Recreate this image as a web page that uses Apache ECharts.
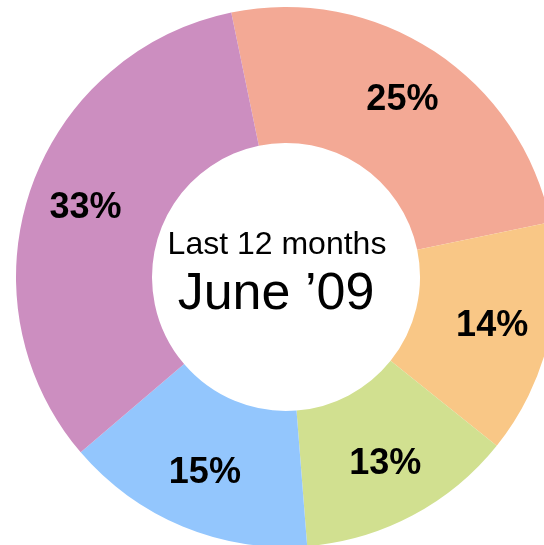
<!DOCTYPE html>
<html>
<head>
<meta charset="utf-8">
<script src="https://cdn.jsdelivr.net/npm/echarts@6/dist/echarts.min.js"></script>
<style>
    html, body { margin: 0; padding: 0; background: #ffffff; }
    #chart { width: 544px; height: 545px; }
</style>
</head>
<body>
<div id="chart"></div>
<script>
// slices, clockwise from the top
var categories = ["A", "B", "C", "D", "E"];
var values = [25, 14, 13, 15, 33];
var colors = ["#F3A995", "#F9C786", "#D1E090", "#93C6FD", "#CC8EC0"];

var chart = echarts.init(document.getElementById("chart"));

var font = "Liberation Sans, Arial, sans-serif";

var sliceData = categories.map(function (c, i) {
    return {name: c, value: values[i], itemStyle: {color: colors[i]}};
});

var option = {
    animation: false,
    backgroundColor: "#ffffff",
    graphic: [
        {
            type: "text",
            x: 277,
            y: 245,
            style: {
                text: "Last 12 months",
                fontSize: 32,
                fontFamily: font,
                fill: "#000000",
                align: "center",
                verticalAlign: "middle"
            }
        },
        {
            type: "text",
            x: 276,
            y: 295,
            style: {
                text: "June \u201909",
                fontSize: 52,
                fontFamily: font,
                fill: "#000000",
                align: "center",
                verticalAlign: "middle"
            }
        }
    ],
    series: [
        {
            type: "pie",
            center: [286, 277],
            radius: [134, 270],
            startAngle: 101.7,
            clockwise: true,
            silent: true,
            data: sliceData,
            itemStyle: {borderWidth: 0},
            label: {show: false},
            labelLine: {show: false},
            emphasis: {disabled: true}
        },
        {
            // label ring, a bit further out than the ring's middle
            type: "pie",
            center: [286, 277],
            radius: [148, 270],
            startAngle: 101.7,
            clockwise: true,
            silent: true,
            avoidLabelOverlap: false,
            data: sliceData,
            itemStyle: {color: "transparent", borderWidth: 0},
            label: {
                show: true,
                position: "inside",
                formatter: "{c}%",
                color: "#000000",
                fontSize: 36,
                fontWeight: "bold",
                fontFamily: font
            },
            labelLine: {show: false},
            emphasis: {disabled: true}
        }
    ]
};

option.series[1].data = values.map(function (v, i) {
    return {name: categories[i], value: v, itemStyle: {color: "rgba(0,0,0,0)"}};
});

chart.setOption(option);
</script>
</body>
</html>
